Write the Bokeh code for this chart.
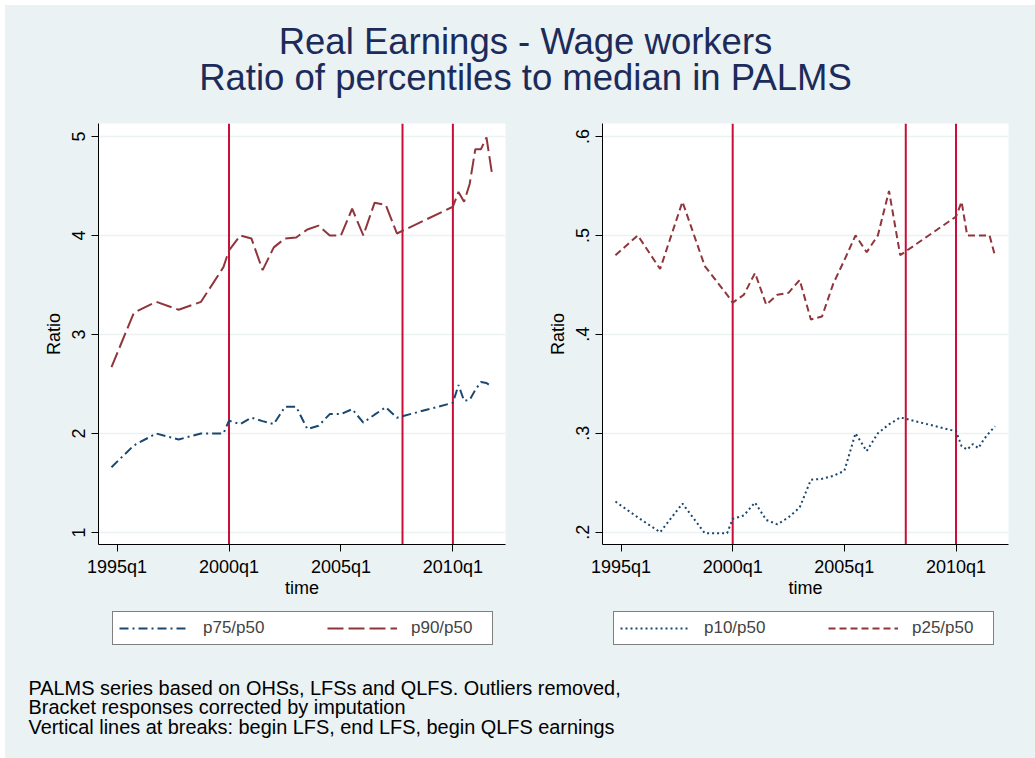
from bokeh.plotting import figure
from bokeh.models import Range1d, FixedTicker, Span, Legend, LegendItem, Label
from bokeh.layouts import column, row
from bokeh.embed import file_html
from bokeh.resources import INLINE
from bokeh.core.validation import silence
from bokeh.core.validation.warnings import MISSING_RENDERERS

silence(MISSING_RENDERERS, True)

# ---------------- data ----------------
# Stata quarterly time index: 1995q1 = 140, 2000q1 = 160, 2005q1 = 180, 2010q1 = 200
quarters = [139, 143, 147, 151, 155, 159, 160, 162, 164, 166, 168, 170, 172, 174, 176,
            178, 180, 182, 184, 186, 188, 190, 200, 201, 202, 203, 204, 205, 206, 207]
p75_p50 = [1.66, 1.88, 2.00, 1.94, 2.00, 2.00, 2.13, 2.095, 2.16, 2.125, 2.095, 2.27, 2.27, 2.044, 2.078,
           2.196, 2.196, 2.246, 2.11, 2.19, 2.265, 2.16, 2.31, 2.49, 2.33, 2.34, 2.44, 2.52, 2.51, 2.47]
p90_p50 = [2.67, 3.22, 3.33, 3.25, 3.33, 3.68, 3.85, 4.00, 3.97, 3.65, 3.88, 3.97, 3.98, 4.06, 4.10,
           4.00, 4.00, 4.27, 4.00, 4.33, 4.31, 4.02, 4.29, 4.44, 4.34, 4.52, 4.87, 4.87, 4.99, 4.62]
p10_p50 = [0.231, 0.215, 0.200, 0.229, 0.199, 0.199, 0.2135, 0.217, 0.230, 0.2125, 0.208, 0.215, 0.225, 0.253, 0.254,
           0.257, 0.262, 0.300, 0.282, 0.300, 0.309, 0.316, 0.302, 0.287, 0.2835, 0.289, 0.285, 0.294, 0.301, 0.307]
p25_p50 = [0.480, 0.500, 0.466, 0.534, 0.469, 0.440, 0.432, 0.440, 0.462, 0.430, 0.440, 0.442, 0.455, 0.415, 0.418,
           0.451, 0.475, 0.500, 0.483, 0.500, 0.545, 0.480, 0.519, 0.534, 0.500, 0.500, 0.500, 0.500, 0.500, 0.479]
breaks = [160, 191, 200]

x_ticks = [140, 160, 180, 200]
x_tick_labels = ["1995q1", "2000q1", "2005q1", "2010q1"]
left_y_ticks = [1, 2, 3, 4, 5]
left_y_labels = ["1", "2", "3", "4", "5"]
right_y_ticks = [0.2, 0.3, 0.4, 0.5, 0.6]
right_y_labels = [".2", ".3", ".4", ".5", ".6"]

title_lines = ["Real Earnings - Wage workers", "Ratio of percentiles to median in PALMS"]
note_lines = ["PALMS series based on OHSs, LFSs and QLFS. Outliers removed,",
              "Bracket responses corrected by imputation",
              "Vertical lines at breaks: begin LFS, end LFS, begin QLFS earnings"]

# ---------------- style ----------------
BG = "#EAF2F3"
NAVY = "#1A476F"
MAROON = "#90353B"
VRED = "#C90F37"
TITLE_COL = "#1C2B5A"
FONT = "Liberation Sans"
TOTAL_W = 1030
BGSTYLE = {"background-color": BG}
NAN = float("nan")


def blank(width, height):
    p = figure(width=width, height=height, x_range=Range1d(0, width), y_range=Range1d(height, 0),
               x_axis_type=None, y_axis_type=None, toolbar_location=None, output_backend="svg",
               min_border=0)
    p.outline_line_color = None
    p.background_fill_color = BG
    p.border_fill_color = BG
    p.xgrid.visible = False
    p.ygrid.visible = False
    return p


def panel(width, ml, mr, yr, yticks, ylabels, series):
    p = figure(width=width, height=492, x_range=Range1d(136.68, 209.4), y_range=Range1d(*yr),
               toolbar_location=None, output_backend="svg",
               min_border_left=ml, min_border_right=mr, min_border_top=15, min_border_bottom=56)
    p.background_fill_color = "white"
    p.border_fill_color = BG
    p.outline_line_color = None
    p.xgrid.visible = False
    p.ygrid.ticker = FixedTicker(ticks=yticks)
    p.ygrid.grid_line_color = BG
    p.ygrid.grid_line_width = 1.5

    for b in breaks:
        p.add_layout(Span(location=b, dimension="height", line_color=VRED, line_width=2, level="underlay"))

    for label, ys, color, dash in series:
        p.line(quarters, ys, line_color=color, line_width=2, line_dash=dash)

    xa = p.xaxis[0]
    xa.ticker = FixedTicker(ticks=x_ticks)
    xa.major_label_overrides = dict(zip(x_ticks, x_tick_labels))
    xa.axis_label = "time"
    ya = p.yaxis[0]
    ya.ticker = FixedTicker(ticks=yticks)
    ya.major_label_overrides = dict(zip(yticks, ylabels))
    ya.major_label_orientation = "vertical"
    ya.axis_label = "Ratio"
    for ax in (xa, ya):
        ax.axis_line_color = "black"
        ax.major_tick_line_color = "black"
        ax.major_tick_out = 7
        ax.major_tick_in = 0
        ax.minor_tick_line_color = None
        ax.major_label_text_font = FONT
        ax.major_label_text_font_size = "18px"
        ax.major_label_text_color = "black"
        ax.axis_label_text_font = FONT
        ax.axis_label_text_font_size = "18px"
        ax.axis_label_text_font_style = "normal"
        ax.axis_label_text_color = "black"
    xa.major_label_standoff = 5
    xa.axis_label_standoff = -2
    ya.major_label_standoff = 6
    ya.axis_label_standoff = 6
    return p


def legend_fig(width, series, leg_x):
    p = blank(width, 55)
    items = []
    for label, ys, color, dash in series:
        # legend key only: a one-point NaN line (draws nothing) carrying the panel line's style
        r = p.line([NAN], [NAN], line_color=color, line_width=2, line_dash=dash)
        items.append(LegendItem(label=label, renderers=[r]))
    leg = Legend(items=items, orientation="horizontal", location=(leg_x, 10))
    leg.border_line_color = "black"
    leg.border_line_width = 1
    leg.background_fill_color = "white"
    leg.background_fill_alpha = 1
    leg.label_text_font = FONT
    leg.label_text_font_size = "17px"
    leg.glyph_width = 70
    leg.glyph_height = 16
    leg.label_standoff = 14
    leg.label_width = 75
    leg.spacing = 49
    leg.padding = 6
    leg.margin = 0
    p.add_layout(leg, "center")
    return p


left_series = [("p75/p50", p75_p50, NAVY, "9 4 2 4"), ("p90/p50", p90_p50, MAROON, "16 5")]
right_series = [("p10/p50", p10_p50, NAVY, "2 3"), ("p25/p50", p25_p50, MAROON, "7 4")]

# title
tfig = blank(TOTAL_W, 103)
for i, t in enumerate(title_lines):
    tfig.add_layout(Label(x=520, y=36 + 36 * i, text=t, text_align="center", text_baseline="middle",
                          text_font=FONT, text_font_size="36.5px", text_color=TITLE_COL))

left = panel(512, 93, 12, (0.879, 5.131), left_y_ticks, left_y_labels, left_series)
right = panel(518, 85, 27, (0.1876, 0.6131), right_y_ticks, right_y_labels, right_series)
leg_left = legend_fig(512, left_series, 107)
leg_right = legend_fig(518, right_series, 96)

nfig = blank(TOTAL_W, 103)
for i, t in enumerate(note_lines):
    nfig.add_layout(Label(x=23, y=32 + 19.5 * i, text=t, text_align="left", text_baseline="middle",
                          text_font=FONT, text_font_size="19.9px", text_color="black"))

layout = column(tfig,
                row(left, right, spacing=0, styles=BGSTYLE),
                row(leg_left, leg_right, spacing=0, styles=BGSTYLE),
                nfig, spacing=0, margin=(5, 0, 0, 5), styles=BGSTYLE)
open("out.html", "w").write(file_html(layout, INLINE))
